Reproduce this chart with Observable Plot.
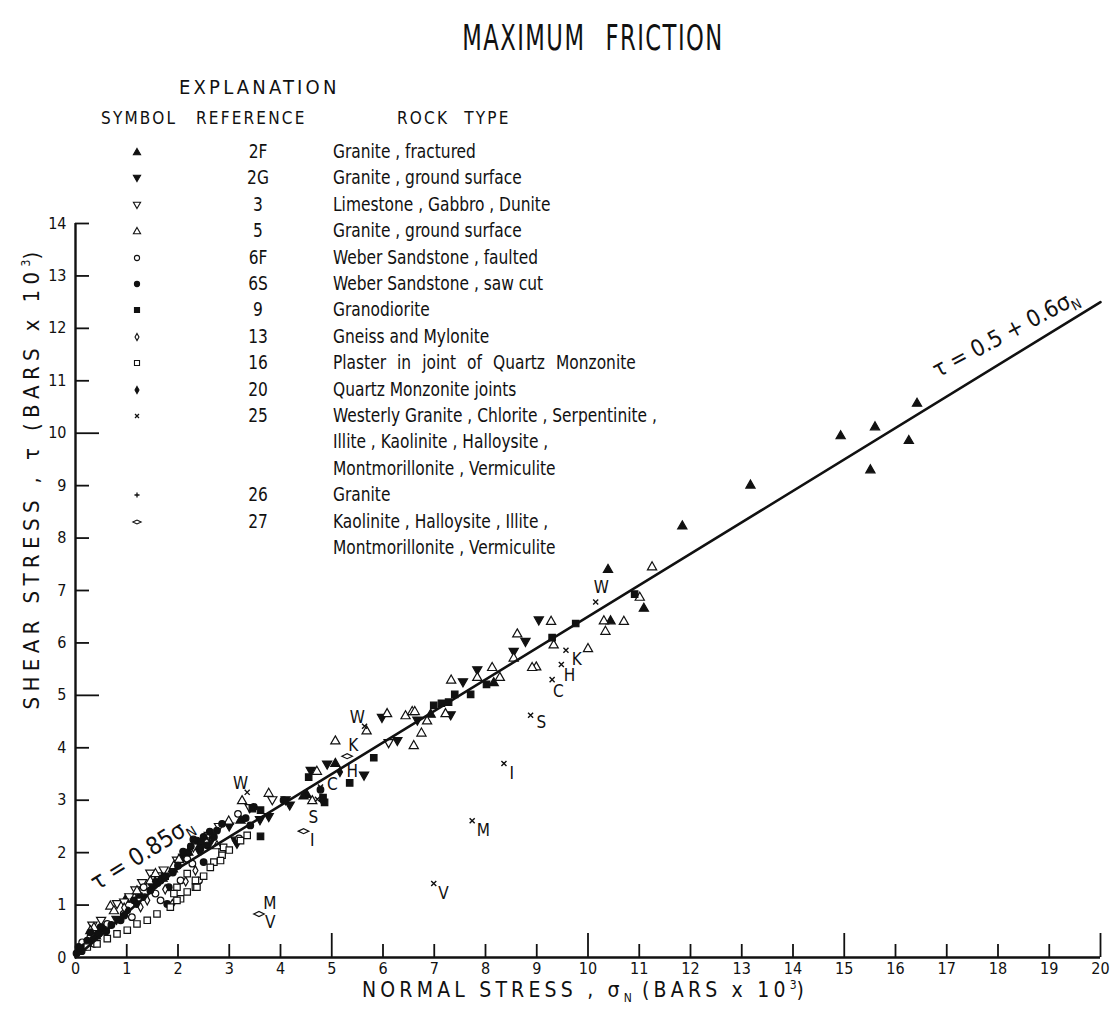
<!DOCTYPE html>
<html><head><meta charset="utf-8">
<script src="https://cdn.jsdelivr.net/npm/d3@7"></script>
<script src="https://cdn.jsdelivr.net/npm/@observablehq/plot@0.6"></script>
<style>
:root{--f:"Liberation Sans Narrow","DejaVu Sans Condensed","Roboto Condensed","DejaVu Sans",sans-serif;}
body{margin:0;background:#fff;}
#page{position:relative;width:1120px;height:1012px;overflow:hidden;font-family:var(--f);color:#111;}
#title{position:absolute;left:0;width:1186px;top:18px;text-align:center;font-size:35px;letter-spacing:2px;word-spacing:16px;transform:scaleX(0.72);transform-origin:593px 0;}
#chart{position:absolute;left:0;top:70px;}
.lg{position:absolute;white-space:nowrap;font-size:19.5px;line-height:22px;transform-origin:0 50%;}
.hdr{position:absolute;white-space:nowrap;font-size:17px;letter-spacing:2.2px;}
#xtitle{position:absolute;left:0;width:1170px;top:978px;text-align:center;font-size:21px;letter-spacing:4.2px;}
#ytitle{position:absolute;left:31px;top:478px;transform:translate(-50%,-50%) rotate(-90deg);white-space:nowrap;font-size:22px;letter-spacing:5.4px;}
sub,sup{font-size:12px;letter-spacing:0;}
</style></head>
<body><div id="page">
<div id="title">MAXIMUM FRICTION</div>
<div id="chart"></div>
<div id="xtitle">NORMAL STRESS , σ<sub>N</sub> (BARS x 10<sup>3</sup>)</div>
<div id="ytitle">SHEAR STRESS , τ (BARS x 10<sup>3</sup>)</div>
</div>
<script>
// ---------- data (σN, τ in kilobars) ----------
const xTickValues = [0,1,2,3,4,5,6,7,8,9,10,11,12,13,14,15,16,17,18,19,20];
const yTickValues = [0,1,2,3,4,5,6,7,8,9,10,11,12,13,14];

const legendRefs = ["2F","2G","3","5","6F","6S","9","13","16","20","25","26","27"];
const rockTypes = [
  ["Granite , fractured"],
  ["Granite , ground surface"],
  ["Limestone , Gabbro , Dunite"],
  ["Granite , ground surface"],
  ["Weber Sandstone , faulted"],
  ["Weber Sandstone , saw cut"],
  ["Granodiorite"],
  ["Gneiss and Mylonite"],
  ["Plaster in joint of Quartz Monzonite"],
  ["Quartz Monzonite joints"],
  ["Westerly Granite , Chlorite , Serpentinite ,","Illite , Kaolinite , Halloysite ,","Montmorillonite , Vermiculite"],
  ["Granite"],
  ["Kaolinite , Halloysite , Illite ,","Montmorillonite , Vermiculite"]
];

const s2F = [[16.42,10.58],[15.60,10.13],[14.93,9.96],[16.26,9.87],[15.51,9.31],[13.17,9.02],[11.84,8.24],[10.39,7.41],[11.09,6.67],[10.44,6.43],[8.16,5.25],[6.93,4.65],[5.07,3.71],[4.51,3.12],[4.45,3.09],[3.22,2.63],[0.98,1.12],[2.20,2.02],[1.70,1.52],[0.55,0.55],[1.25,1.20],[0.40,0.42],[1.90,1.70]];
const s2G = [[9.04,6.43],[8.78,6.02],[8.55,5.83],[7.56,5.25],[7.84,5.48],[7.32,4.62],[6.67,4.52],[6.28,4.13],[5.98,4.57],[4.91,3.68],[4.59,3.56],[5.63,3.47],[4.18,2.90],[4.10,3.00],[3.77,2.68],[3.12,2.23],[3.15,2.17],[2.62,2.18],[2.10,1.90],[1.50,1.35],[0.80,0.72],[3.60,2.62],[3.00,2.50],[2.40,2.05]];
const s3 = [[6.11,4.09],[3.84,3.00],[1.17,1.28],[1.46,1.60],[1.98,1.85],[0.33,0.61],[0.81,1.02],[1.72,1.66],[2.30,2.10],[2.60,2.32],[0.50,0.70],[1.05,1.15],[1.30,1.42],[2.80,2.49],[3.40,2.85],[0.95,1.05],[1.60,1.55]];
const s5 = [[11.25,7.46],[11.01,6.88],[10.31,6.43],[10.70,6.42],[10.34,6.23],[9.28,6.42],[8.62,6.18],[9.33,5.97],[10.00,5.90],[8.99,5.55],[8.91,5.54],[8.55,5.72],[8.13,5.54],[7.33,5.30],[7.84,5.35],[8.28,5.35],[7.22,4.66],[6.86,4.52],[6.08,4.66],[6.44,4.62],[6.57,4.70],[6.62,4.70],[6.75,4.29],[6.60,4.05],[5.68,4.33],[5.07,4.14],[4.71,3.56],[4.62,3.00],[3.77,3.14],[3.25,3.00],[2.99,2.61],[2.76,2.14],[1.46,1.47],[1.56,1.61],[1.20,1.28],[0.68,0.99],[0.36,0.58],[1.92,1.76],[2.54,2.23],[0.29,0.52],[0.75,0.90],[2.02,1.88]];
const s6F = [[3.19,2.27],[3.17,2.74],[2.18,1.88],[2.28,1.79],[1.66,1.09],[1.56,1.22],[0.94,0.83],[1.10,0.77],[0.62,0.64],[0.29,0.39],[0.13,0.29],[2.05,1.47],[1.33,1.34],[2.41,1.47],[0.36,0.26]];
const s6S = [[2.37,2.23],[2.57,2.14],[2.44,2.10],[2.50,2.30],[2.50,1.82],[1.66,1.47],[1.82,1.34],[1.46,1.28],[1.14,1.09],[1.01,0.90],[0.88,0.71],[0.49,0.58],[0.45,0.45],[0.23,0.32],[0.06,0.20],[0.02,0.08],[3.32,2.66],[3.41,2.52],[3.48,2.87],[2.76,2.42],[2.86,2.55],[4.06,3.00],[4.78,3.20],[1.79,1.02],[0.29,0.48],[2.20,2.00],[2.00,1.75],[1.90,1.62],[0.12,0.12],[0.35,0.35],[0.70,0.62],[1.20,1.02],[2.30,2.25],[2.62,2.40],[1.60,1.42],[0.18,0.20],[2.10,2.02],[2.25,2.12],[1.35,1.15],[0.60,0.50],[0.95,0.80],[2.70,2.30]];
const s9 = [[9.76,6.37],[9.30,6.10],[10.91,6.93],[8.02,5.21],[7.71,5.02],[7.40,5.02],[6.99,4.81],[7.14,4.85],[7.28,4.87],[5.35,3.33],[4.86,2.96],[4.55,3.44],[3.61,2.31],[3.61,2.81],[3.45,2.84],[4.83,3.05],[5.82,3.81],[2.45,2.20],[1.75,1.55]];
const s13 = [[1.27,0.96],[1.40,1.09],[1.89,1.02],[2.34,1.66],[0.95,0.95],[1.75,1.30],[2.15,1.45]];
const s16 = [[2.86,2.01],[2.70,1.82],[2.86,1.95],[2.83,1.85],[2.18,1.60],[2.34,1.34],[2.05,1.12],[2.37,1.34],[2.18,1.25],[1.98,1.09],[1.85,0.96],[1.59,0.83],[1.40,0.71],[1.20,0.64],[1.01,0.52],[0.81,0.45],[0.62,0.36],[0.42,0.26],[2.63,1.72],[3.22,2.23],[3.35,2.33],[2.89,2.10],[0.23,0.20],[1.98,1.34],[1.92,1.22],[2.34,1.47],[3.00,2.05],[2.50,1.55]];
const s20 = [[5.16,3.54],[4.81,3.00],[1.55,1.45],[2.45,2.05]];
const s25 = [[10.15,6.78],[9.57,5.86],[9.48,5.59],[9.30,5.30],[8.88,4.62],[8.36,3.70],[7.74,2.61],[6.99,1.41],[3.35,3.15],[5.64,4.41],[4.78,3.25],[4.72,3.02]];
const s26 = [[1.30,1.18],[2.62,2.28]];
const s27 = [[5.30,3.84],[4.45,2.41],[3.58,0.83]];

// letters written next to individual points
const pointLabels = [
  [10.26,7.06,"W"],[9.78,5.69,"K"],[9.64,5.38,"H"],[9.42,5.08,"C"],[9.09,4.48,"S"],[8.51,3.51,"I"],[7.96,2.42,"M"],[7.18,1.22,"V"],
  [3.22,3.32,"W"],[5.50,4.58,"W"],[5.42,4.05,"K"],[5.40,3.55,"H"],[5.01,3.30,"C"],[4.64,2.67,"S"],[4.62,2.23,"I"],[3.79,1.03,"M"],[3.80,0.67,"V"]
];

// friction law: τ = 0.85σN below 2 kbar, τ = 0.5 + 0.6σN above
const lawBreaks = [0, 2, 20];
const lawLabels = [
  {x: 1.30, y: 1.98, text: "τ = 0.85σN", rotate: -32},
  {x: 18.15, y: 11.90, text: "τ = 0.5 + 0.6σN", rotate: -28}
];

// ---------- symbols ----------
const rad = s => Math.sqrt(s / Math.PI);
const shapes = {
  triUp:   {draw(c,s){const r=rad(s);c.moveTo(0,-r);c.lineTo(r,0.75*r);c.lineTo(-r,0.75*r);c.closePath();}},
  triDown: {draw(c,s){const r=rad(s);c.moveTo(0,r);c.lineTo(r,-0.75*r);c.lineTo(-r,-0.75*r);c.closePath();}},
  circle:  {draw(c,s){const r=rad(s)*0.72;c.moveTo(r,0);c.arc(0,0,r,0,2*Math.PI);}},
  square:  {draw(c,s){const r=rad(s)*0.7;c.rect(-r,-r,2*r,2*r);}},
  tallDia: {draw(c,s){const r=rad(s);c.moveTo(0,-r);c.lineTo(0.55*r,0);c.lineTo(0,r);c.lineTo(-0.55*r,0);c.closePath();}},
  wideDia: {draw(c,s){const r=rad(s);c.moveTo(-1.15*r,0);c.lineTo(0,-0.55*r);c.lineTo(1.15*r,0);c.lineTo(0,0.55*r);c.closePath();}},
  times:   {draw(c,s){const a=rad(s)*0.55;c.moveTo(-a,-a);c.lineTo(a,a);c.moveTo(a,-a);c.lineTo(-a,a);}},
  plus:    {draw(c,s){const a=rad(s)*0.7;c.moveTo(-a,0);c.lineTo(a,0);c.moveTo(0,-a);c.lineTo(0,a);}}
};
const series = [
  {ref:"2F", data:s2F, shape:"triUp",   fill:"filled"},
  {ref:"2G", data:s2G, shape:"triDown", fill:"filled"},
  {ref:"3",  data:s3,  shape:"triDown", fill:"open"},
  {ref:"5",  data:s5,  shape:"triUp",   fill:"open"},
  {ref:"6F", data:s6F, shape:"circle",  fill:"open"},
  {ref:"6S", data:s6S, shape:"circle",  fill:"filled"},
  {ref:"9",  data:s9,  shape:"square",  fill:"filled"},
  {ref:"13", data:s13, shape:"tallDia", fill:"open"},
  {ref:"16", data:s16, shape:"square",  fill:"open"},
  {ref:"20", data:s20, shape:"tallDia", fill:"filled"},
  {ref:"25", data:s25, shape:"times",   fill:"none"},
  {ref:"26", data:s26, shape:"plus",    fill:"none"},
  {ref:"27", data:s27, shape:"wideDia", fill:"open"}
];
const INK = "#111";
const fillOf = f => f === "filled" ? INK : f === "open" ? "white" : "none";
const R = 4.6;

const lawPts = lawBreaks.map(s => ({x: s, y: s < 2 ? 0.85 * s : 0.5 + 0.6 * s}));
const FONT = '"Liberation Sans Narrow","DejaVu Sans Condensed","Roboto Condensed","DejaVu Sans",sans-serif';

const marks = [];
for (const s of series) {
  marks.push(Plot.dot(s.data, {x: d => d[0], y: d => d[1], symbol: shapes[s.shape], r: R,
    fill: fillOf(s.fill), stroke: INK, strokeWidth: s.fill === "none" ? 1.4 : 1.2}));
}
marks.push(
  Plot.line(lawPts, {x: "x", y: "y", stroke: INK, strokeWidth: 2.6}),
  Plot.ruleY([0], {stroke: INK, strokeWidth: 2.4}),
  Plot.ruleX([0], {stroke: INK, strokeWidth: 2.4}),
  Plot.ruleX(xTickValues.filter(d => d > 0 && d % 5), {x: d => d, y1: 0, y2: 0, insetTop: -13, stroke: INK, strokeWidth: 1.8}),
  Plot.ruleX(xTickValues.filter(d => d > 0 && d % 5 === 0), {x: d => d, y1: 0, y2: 0, insetTop: -24, stroke: INK, strokeWidth: 1.8}),
  Plot.ruleY(yTickValues.filter(d => d > 0 && d % 5), {y: d => d, x1: 0, x2: 0, insetRight: -14, stroke: INK, strokeWidth: 1.8}),
  Plot.ruleY(yTickValues.filter(d => d > 0 && d % 5 === 0), {y: d => d, x1: 0, x2: 0, insetRight: -24, stroke: INK, strokeWidth: 1.8}),
  Plot.axisX({ticks: xTickValues, tickSize: 0, tickPadding: 5, fontSize: 16, label: null, tickFormat: d => String(d)}),
  Plot.axisY({ticks: yTickValues, tickSize: 0, tickPadding: 9, fontSize: 16, label: null, tickFormat: d => String(d)}),
  Plot.text(pointLabels, {x: d => d[0], y: d => d[1], text: d => d[2], fontSize: 17, fill: INK}),
  Plot.text([lawLabels[0]], {x: "x", y: "y", text: "text", rotate: lawLabels[0].rotate, fontSize: 24, fill: INK}),
  Plot.text([lawLabels[1]], {x: "x", y: "y", text: "text", rotate: lawLabels[1].rotate, fontSize: 23, fill: INK})
);

const chart = Plot.plot({
  width: 1120, height: 942,
  marginLeft: 75, marginRight: 20, marginTop: 153, marginBottom: 55,
  x: {domain: [0, 20]},
  y: {domain: [0, 14]},
  style: {fontFamily: FONT, background: "white", color: INK},
  marks
});
document.getElementById("chart").appendChild(chart);

// subscript N in the law labels
d3.select(chart).selectAll("text").each(function() {
  const t = this.textContent;
  if (t.endsWith("σN")) {
    const el = d3.select(this);
    el.text(null);
    el.append("tspan").text(t.slice(0, -1));
    el.append("tspan").attr("dy", "0.35em").attr("font-size", "14px").text("N");
  }
});

// ---------- legend ----------
const page = document.getElementById("page");
function addDiv(cls, html, left, top, extra) {
  const d = document.createElement("div");
  d.className = cls; d.innerHTML = html;
  d.style.left = left + "px"; d.style.top = top + "px";
  if (extra) Object.assign(d.style, extra);
  page.appendChild(d);
  return d;
}
addDiv("hdr", "EXPLANATION", 179, 75, {fontSize: "20px", letterSpacing: "3.2px"});
addDiv("hdr", "SYMBOL", 101, 108);
addDiv("hdr", "REFERENCE", 196, 108);
addDiv("hdr", "ROCK TYPE", 397, 108, {wordSpacing: "8px"});
let line = 0;
const ROW0 = 152, ROWH = 26.4;
legendRefs.forEach((ref, i) => {
  const s = series.find(v => v.ref === ref);
  const cy = ROW0 + ROWH * line;
  const p = d3.path(); shapes[s.shape].draw(p, Math.PI * 3.6 * 3.6);
  const svg = `<svg width="14" height="14" viewBox="-7 -7 14 14" style="display:block"><path d="${p}" fill="${fillOf(s.fill)}" stroke="${INK}" stroke-width="${s.fill==="none"?1.3:1.1}"/></svg>`;
  addDiv("lg", svg, 130, cy - 7);
  addDiv("lg", ref, 258, cy - 11, {transform: "translateX(-50%) scaleX(0.88)", transformOrigin: "50% 50%"});
  rockTypes[i].forEach((txt, k) => {
    addDiv("lg", txt, 333, cy - 11 + ROWH * k, {transform: "scaleX(0.88)", wordSpacing: ref === "16" ? "7px" : "0px"});
  });
  line += rockTypes[i].length;
});
</script>
</body></html>
